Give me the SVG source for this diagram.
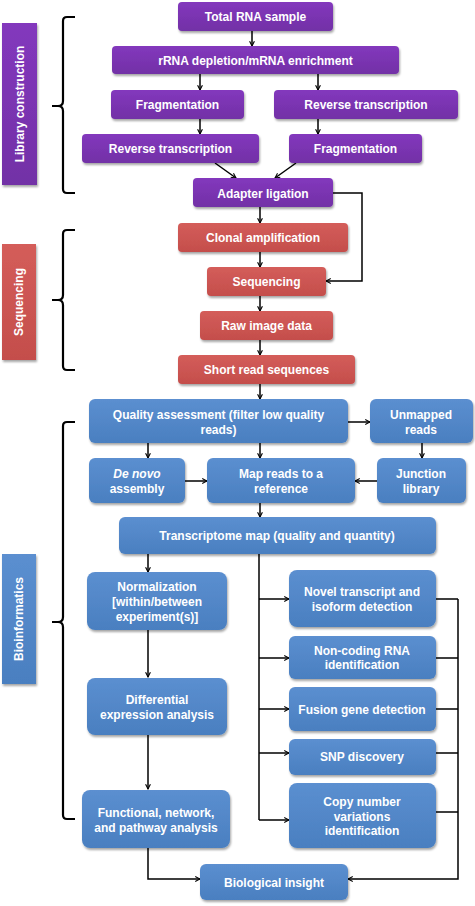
<svg xmlns="http://www.w3.org/2000/svg" width="475" height="906" viewBox="0 0 475 906">
<defs>
<linearGradient id="gP" x1="0" y1="0" x2="0" y2="1"><stop offset="0" stop-color="#8338bd"/><stop offset="1" stop-color="#7230a6"/></linearGradient>
<linearGradient id="gR" x1="0" y1="0" x2="0" y2="1"><stop offset="0" stop-color="#d45d5a"/><stop offset="1" stop-color="#c44e4b"/></linearGradient>
<linearGradient id="gB" x1="0" y1="0" x2="0" y2="1"><stop offset="0" stop-color="#5b8fd0"/><stop offset="1" stop-color="#4a7fc0"/></linearGradient>
<filter id="sh" x="-10%" y="-10%" width="125%" height="140%"><feDropShadow dx="1" dy="2" stdDeviation="1.2" flood-color="#000" flood-opacity="0.35"/></filter>
<marker id="ar" viewBox="0 0 10 10" refX="9" refY="5" markerWidth="6" markerHeight="6" orient="auto" markerUnits="userSpaceOnUse"><path d="M1,1 L9,5 L1,9" fill="none" stroke="#000" stroke-width="1.8"/></marker>
</defs>
<style>
text{font-family:"Liberation Sans",Arial,sans-serif;font-weight:bold;font-size:12px;fill:#fff;text-anchor:middle}
.p{fill:url(#gP);filter:url(#sh)}
.r{fill:url(#gR);filter:url(#sh)}
.b{fill:url(#gB);filter:url(#sh)}
.c{fill:none;stroke:#000;stroke-width:1.5}
.a{marker-end:url(#ar)}
.br{fill:none;stroke:#000;stroke-width:2.2}
</style>
<rect width="475" height="906" fill="#fff"/>

<g id="brackets">
<path class="br" d="M75,17 H67 Q63,17 63,21 V101 Q63,106 58,106 H52 M58,106 Q63,106 63,111 V189 Q63,193 67,193 H75"/>
<path class="br" d="M75,230 H67 Q63,230 63,234 V295 Q63,300 58,300 H52 M58,300 Q63,300 63,305 V366 Q63,370 67,370 H75"/>
<path class="br" d="M75,422 H67 Q63,422 63,426 V617 Q63,622 58,622 H52 M58,622 Q63,622 63,627 V815 Q63,819 67,819 H75"/>
</g>

<g id="label-library"><rect class="p" x="2" y="23" width="35" height="162"/><text transform="translate(23.5,104) rotate(-90)">Library construction</text></g>
<g id="label-sequencing"><rect class="r" x="2" y="244" width="34" height="116"/><text transform="translate(23,302) rotate(-90)">Sequencing</text></g>
<g id="label-bioinformatics"><rect class="b" x="2" y="554" width="34" height="130"/><text transform="translate(23,619) rotate(-90)">Bioinformatics</text></g>

<g id="connectors">
<path class="c a" d="M252,31 V46"/>
<path class="c a" d="M200,74 V90"/>
<path class="c a" d="M318,74 V90"/>
<path class="c a" d="M200,119 V134"/>
<path class="c a" d="M318,119 V134"/>
<path class="c a" d="M215,163 L236,178"/>
<path class="c a" d="M296,163 L275,178"/>
<path class="c a" d="M260,207 V223"/>
<path class="c a" d="M333,193 H362 V281 H326"/>
<path class="c a" d="M260,252 V267"/>
<path class="c a" d="M260,296 V311"/>
<path class="c a" d="M260,340 V355"/>
<path class="c a" d="M260,384 V399"/>
<path class="c a" d="M348,422 H370"/>
<path class="c a" d="M148,443 V458"/>
<path class="c a" d="M260,443 V458"/>
<path class="c a" d="M422,443 V458"/>
<path class="c a" d="M185,481 H207"/>
<path class="c a" d="M377,481 H355"/>
<path class="c a" d="M260,503 V517"/>
<path class="c a" d="M148,554 V572"/>
<path class="c" d="M259,554 V820"/>
<path class="c a" d="M259,599 H289"/>
<path class="c a" d="M259,658 H289"/>
<path class="c a" d="M259,709 H289"/>
<path class="c a" d="M259,753 H289"/>
<path class="c a" d="M259,820 H289"/>
<path class="c a" d="M148,630 V677"/>
<path class="c a" d="M148,735 V789"/>
<path class="c a" d="M148,848 V879 H200"/>
<path class="c" d="M436,599 H458 M436,658 H458 M436,709 H458 M436,753 H458 M436,812 H458"/>
<path class="c a" d="M458,599 V879 H348"/>
</g>

<g id="n-total"><rect class="p" x="178" y="2" width="155" height="29" rx="4"/><text x="255.5" y="21">Total RNA sample</text></g>
<g id="n-rrna"><rect class="p" x="112" y="46" width="287" height="28" rx="4"/><text x="255.5" y="65">rRNA depletion/mRNA enrichment</text></g>
<g id="n-frag1"><rect class="p" x="111" y="90" width="133" height="29" rx="4"/><text x="177.5" y="109">Fragmentation</text></g>
<g id="n-rt1"><rect class="p" x="274" y="90" width="184" height="29" rx="4"/><text x="366" y="109">Reverse transcription</text></g>
<g id="n-rt2"><rect class="p" x="82" y="134" width="177" height="29" rx="4"/><text x="170.5" y="153">Reverse transcription</text></g>
<g id="n-frag2"><rect class="p" x="289" y="134" width="133" height="29" rx="4"/><text x="355.5" y="153">Fragmentation</text></g>
<g id="n-adapter"><rect class="p" x="193" y="178" width="140" height="29" rx="4"/><text x="263" y="198">Adapter ligation</text></g>

<g id="n-clonal"><rect class="r" x="178" y="223" width="170" height="29" rx="4"/><text x="263" y="242">Clonal amplification</text></g>
<g id="n-seq"><rect class="r" x="207" y="267" width="119" height="29" rx="4"/><text x="266.5" y="286">Sequencing</text></g>
<g id="n-raw"><rect class="r" x="200" y="311" width="133" height="29" rx="4"/><text x="266.5" y="330">Raw image data</text></g>
<g id="n-short"><rect class="r" x="178" y="355" width="177" height="29" rx="4"/><text x="266.5" y="374">Short read sequences</text></g>

<g id="n-quality"><rect class="b" x="89" y="399" width="259" height="44" rx="6"/><text x="218.5" y="419">Quality assessment (filter low quality</text><text x="218.5" y="434">reads)</text></g>
<g id="n-unmapped"><rect class="b" x="370" y="399" width="103" height="44" rx="6"/><text x="421" y="419">Unmapped</text><text x="421" y="434">reads</text></g>
<g id="n-denovo"><rect class="b" x="89" y="458" width="96" height="45" rx="6"/><text x="137" y="478" font-style="italic">De novo</text><text x="137" y="493">assembly</text></g>
<g id="n-map"><rect class="b" x="207" y="458" width="148" height="45" rx="6"/><text x="281" y="478">Map reads to a</text><text x="281" y="493">reference</text></g>
<g id="n-junction"><rect class="b" x="377" y="458" width="89" height="45" rx="6"/><text x="421" y="478">Junction</text><text x="421" y="493">library</text></g>
<g id="n-transcriptome"><rect class="b" x="119" y="517" width="317" height="37" rx="6"/><text x="277" y="540">Transcriptome map (quality and quantity)</text></g>
<g id="n-norm"><rect class="b" x="87" y="572" width="140" height="58" rx="8"/><text x="157" y="591">Normalization</text><text x="157" y="606">[within/between</text><text x="157" y="621">experiment(s)]</text></g>
<g id="n-diff"><rect class="b" x="87" y="678" width="140" height="57" rx="8"/><text x="157" y="704">Differential</text><text x="157" y="719">expression analysis</text></g>
<g id="n-func"><rect class="b" x="82" y="790" width="148" height="58" rx="8"/><text x="156" y="817">Functional, network,</text><text x="156" y="832">and pathway analysis</text></g>
<g id="n-novel"><rect class="b" x="289" y="570" width="147" height="57" rx="8"/><text x="362" y="596">Novel transcript and</text><text x="362" y="611">isoform detection</text></g>
<g id="n-noncoding"><rect class="b" x="289" y="636" width="147" height="43" rx="6"/><text x="362" y="655">Non-coding RNA</text><text x="362" y="669">identification</text></g>
<g id="n-fusion"><rect class="b" x="289" y="687" width="147" height="44" rx="6"/><text x="362" y="714">Fusion gene detection</text></g>
<g id="n-snp"><rect class="b" x="289" y="739" width="147" height="36" rx="6"/><text x="362" y="761">SNP discovery</text></g>
<g id="n-copy"><rect class="b" x="289" y="783" width="147" height="65" rx="8"/><text x="362" y="806">Copy number</text><text x="362" y="821">variations</text><text x="362" y="835">identification</text></g>
<g id="n-bio"><rect class="b" x="200" y="864" width="148" height="36" rx="6"/><text x="274" y="887">Biological insight</text></g>
</svg>
